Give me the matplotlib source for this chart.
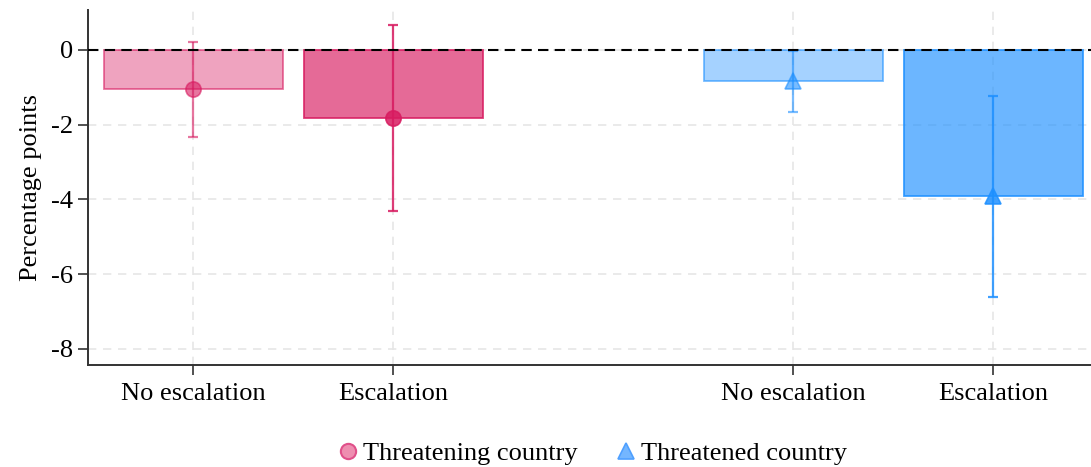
import numpy as np
import matplotlib.pyplot as plt
from matplotlib.lines import Line2D

plt.rcParams["font.family"] = ["Liberation Serif", "DejaVu Serif"]

# Estimates (percentage points) and 95% intervals
categories = ["No escalation", "Escalation", "No escalation", "Escalation"]
groups = ["Threatening country", "Threatening country", "Threatened country", "Threatened country"]
estimates = [-1.05, -1.82, -0.84, -3.92]
ci_low = [-2.33, -4.31, -1.65, -6.61]
ci_high = [0.22, 0.66, -0.04, -1.23]
positions = [1, 2, 4, 5]

pink = "#D81B60"
blue = "#1E90FF"
colors = [pink, pink, blue, blue]
markers = ["o", "o", "^", "^"]
bar_alpha = [0.4, 0.65, 0.4, 0.65]
err_alpha = [0.6, 0.85, 0.6, 0.85]

fig = plt.figure(figsize=(10.91, 4.67), dpi=100)
ax = fig.add_axes([0.0807, 0.2184, 0.9193, 0.7602])

ax.grid(True, color="#e6e6e6", linestyle=(0, (5, 4)), linewidth=1.2, zorder=0)
ax.set_axisbelow(True)

for x, est, lo, hi, c, m, ba, ea in zip(positions, estimates, ci_low, ci_high,
                                        colors, markers, bar_alpha, err_alpha):
    ax.bar(x, est, width=0.895, color=c, alpha=ba, zorder=2)
    ax.bar(x, est, width=0.895, facecolor="none", edgecolor=c, alpha=ba + 0.2,
           linewidth=1.3, zorder=2)
    ax.errorbar(x, est, yerr=[[est - lo], [hi - est]], fmt="none", ecolor=c,
                alpha=ea, elinewidth=1.6, capsize=3.5, capthick=1.6, zorder=3)
    ax.plot(x, est, marker=m, markersize=12 if m == "^" else 11, color=c,
            alpha=ea, markeredgewidth=1.2, linestyle="none", zorder=4)

ax.axhline(0, color="black", linestyle=(0, (5, 3)), linewidth=1.5, zorder=5)

ax.set_xlim(0.475, 5.49)
ax.set_ylim(-8.43, 1.07)
ax.set_xticks(positions)
ax.set_xticklabels(categories)
ax.set_yticks([0, -2, -4, -6, -8])
ax.set_yticklabels(["0", "-2", "-4", "-6", "-8"])
ax.tick_params(axis="both", labelsize=19, length=7, width=1.2, color="#333333")
ax.tick_params(axis="x", pad=6)
ax.tick_params(axis="y", pad=4)
ax.set_ylabel("Percentage points", fontsize=19, labelpad=6)

for side in ["top", "right"]:
    ax.spines[side].set_visible(False)
for side in ["left", "bottom"]:
    ax.spines[side].set_linewidth(1.4)
    ax.spines[side].set_color("#333333")

handles = [
    Line2D([], [], marker="o", linestyle="none", markersize=11,
           markerfacecolor="#EE8EB0", markeredgecolor="#E0508A", markeredgewidth=1.5),
    Line2D([], [], marker="^", linestyle="none", markersize=12,
           markerfacecolor="#74B6FF", markeredgecolor="#4FA0FF", markeredgewidth=1.2),
]
ax.legend(handles, ["Threatening country", "Threatened country"], ncol=2,
          loc="center", bbox_to_anchor=(0.5, -0.25), frameon=False,
          fontsize=19, handletextpad=0.0, columnspacing=1.2, handlelength=1.2)

fig.savefig("out.png", dpi=100)
